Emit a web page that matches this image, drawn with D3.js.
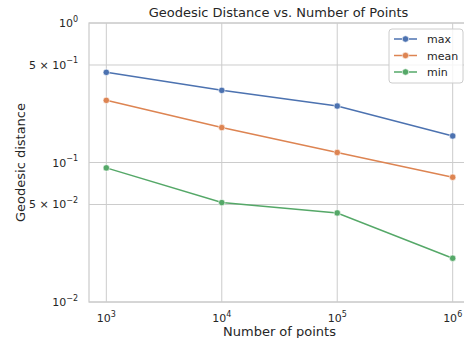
<!DOCTYPE html>
<html>
<head>
<meta charset="utf-8">
<script src="https://cdn.jsdelivr.net/npm/d3@7"></script>
<style>
  body { margin: 0; background: #fff; }
  svg { display: block; font-family: "DejaVu Sans", sans-serif; }
</style>
</head>
<body>
<div id="chart"></div>
<script>
// data
var numPoints = [1e3, 1e4, 1e5, 1e6];
var maxDist = [0.443, 0.329, 0.254, 0.155];
var meanDist = [0.279, 0.178, 0.118, 0.0784];
var minDist = [0.0915, 0.0516, 0.0435, 0.0206];
var seriesNames = ['max', 'mean', 'min'];
var seriesColors = ['#4c72b0', '#dd8452', '#55a868'];
var xTicks = [1e3, 1e4, 1e5, 1e6];
var yTicks = [1e-2, 5e-2, 1e-1, 5e-1, 1];

(function () {
  'use strict';

  var width = 464, height = 338;
  var plotLeft = 89, plotRight = 470, plotTop = 23, plotBottom = 302;
  var textColor = '#262626';

  var svg = d3.select('#chart').append('svg')
    .attr('width', width)
    .attr('height', height);

  var x = d3.scaleLog()
    .domain([Math.pow(10, 2.85), Math.pow(10, 6.15)])
    .range([plotLeft, plotRight]);
  var y = d3.scaleLog()
    .domain([1e-2, 1])
    .range([plotBottom, plotTop]);

  // grid
  svg.append('g').selectAll('line')
    .data(xTicks).enter().append('line')
    .attr('x1', function(d) { return x(d); })
    .attr('x2', function(d) { return x(d); })
    .attr('y1', plotTop).attr('y2', plotBottom)
    .style('stroke', '#cccccc').style('stroke-width', 1);
  svg.append('g').selectAll('line')
    .data(yTicks).enter().append('line')
    .attr('x1', plotLeft).attr('x2', plotRight)
    .attr('y1', function(d) { return y(d); })
    .attr('y2', function(d) { return y(d); })
    .style('stroke', '#cccccc').style('stroke-width', 1);

  // frame
  svg.append('rect')
    .attr('x', plotLeft).attr('y', plotTop)
    .attr('width', plotRight - plotLeft).attr('height', plotBottom - plotTop)
    .style('fill', 'none').style('stroke', '#cccccc').style('stroke-width', 1.25);

  function powLabel(sel, mant, exp) {
    if (mant) sel.append('tspan').text(mant + ' \u00d7 ');
    sel.append('tspan').text('10');
    sel.append('tspan').attr('dy', -5.5).style('font-size', '8px')
      .text(String(exp).replace('-', '\u2212'));
  }

  // x tick labels
  xTicks.forEach(function(t) {
    var txt = svg.append('text')
      .attr('x', x(t)).attr('y', 322)
      .attr('text-anchor', 'middle')
      .style('font-size', '11px').style('fill', textColor);
    powLabel(txt, null, Math.round(Math.log10(t)));
  });

  // y tick labels
  yTicks.forEach(function(t) {
    var e = Math.floor(Math.log10(t) + 1e-9);
    var m = Math.round(t / Math.pow(10, e));
    var txt = svg.append('text')
      .attr('x', 78).attr('y', y(t) + 4)
      .attr('text-anchor', 'end')
      .style('font-size', '11px').style('fill', textColor);
    powLabel(txt, m === 1 ? null : m, e);
  });

  // lines + markers
  var allSeries = [maxDist, meanDist, minDist];
  var line = d3.line()
    .x(function(d, i) { return x(numPoints[i]); })
    .y(function(d) { return y(d); });

  allSeries.forEach(function(vals, k) {
    svg.append('path')
      .datum(vals)
      .attr('d', line)
      .style('fill', 'none')
      .style('stroke', seriesColors[k])
      .style('stroke-width', 1.5);
    svg.append('g').selectAll('circle')
      .data(vals).enter().append('circle')
      .attr('cx', function(d, i) { return x(numPoints[i]); })
      .attr('cy', function(d) { return y(d); })
      .attr('r', 3.2)
      .style('fill', seriesColors[k])
      .style('stroke', '#fff')
      .style('stroke-width', 0.6);
  });

  // title and axis labels
  svg.append('text')
    .attr('x', (plotLeft + plotRight) / 2 - 1).attr('y', 17)
    .attr('text-anchor', 'middle')
    .style('font-size', '13px').style('fill', textColor)
    .text('Geodesic Distance vs. Number of Points');
  svg.append('text')
    .attr('x', (plotLeft + plotRight) / 2).attr('y', 336)
    .attr('text-anchor', 'middle')
    .style('font-size', '13px').style('fill', textColor)
    .text('Number of points');
  svg.append('text')
    .attr('transform', 'translate(25,' + ((plotTop + plotBottom) / 2) + ') rotate(-90)')
    .attr('text-anchor', 'middle')
    .style('font-size', '13px').style('fill', textColor)
    .text('Geodesic distance');

  // legend
  var lg = svg.append('g').attr('transform', 'translate(389,29)');
  lg.append('rect')
    .attr('width', 74).attr('height', 54).attr('rx', 3)
    .style('fill', '#fff').style('fill-opacity', 0.8)
    .style('stroke', '#cccccc').style('stroke-width', 1);
  seriesNames.forEach(function(name, k) {
    var yy = 10 + k * 16.5;
    lg.append('line')
      .attr('x1', 5).attr('x2', 28).attr('y1', yy).attr('y2', yy)
      .style('stroke', seriesColors[k]).style('stroke-width', 1.5);
    lg.append('circle')
      .attr('cx', 16.5).attr('cy', yy).attr('r', 3.2)
      .style('fill', seriesColors[k]).style('stroke', '#fff').style('stroke-width', 0.6);
    lg.append('text')
      .attr('x', 38).attr('y', yy + 4)
      .style('font-size', '11px').style('fill', textColor)
      .text(name);
  });
})();
</script>
</body>
</html>
